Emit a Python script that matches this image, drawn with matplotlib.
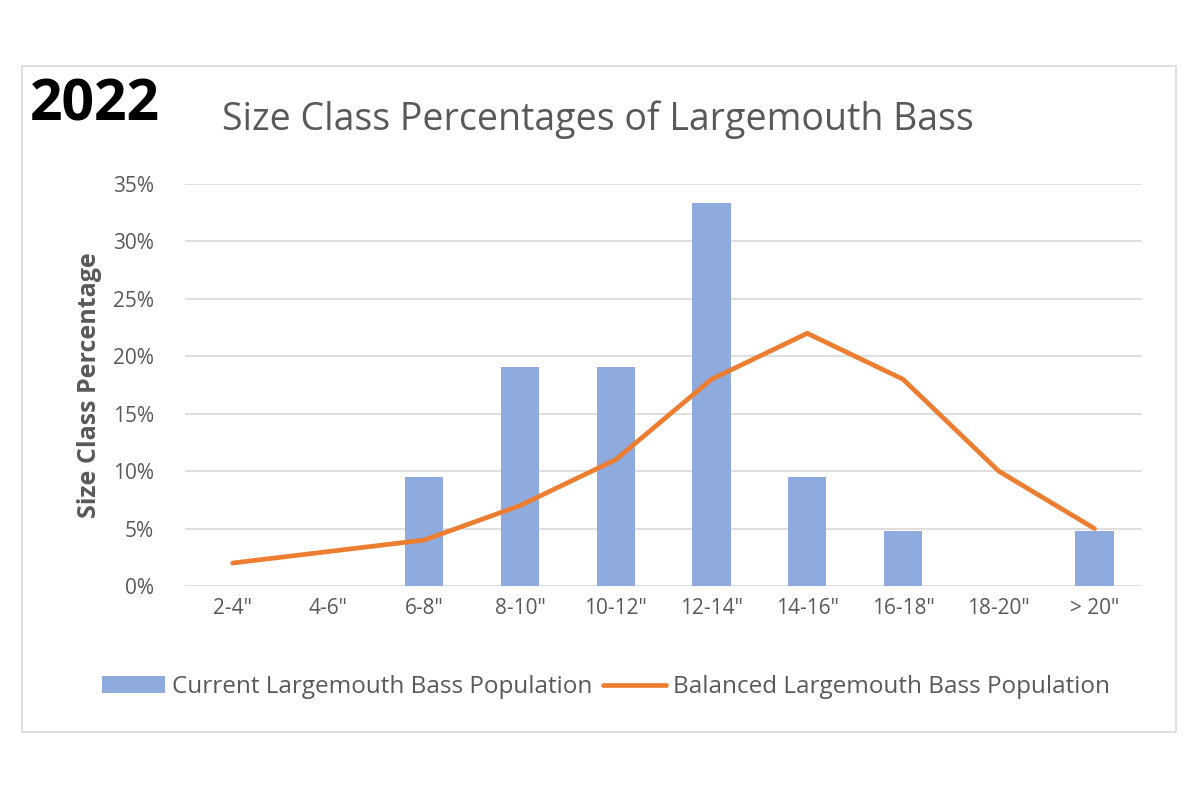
import numpy as np
import matplotlib.pyplot as plt
from matplotlib.patches import Rectangle
from matplotlib.ticker import PercentFormatter

# donnees
categories = ['2-4"', '4-6"', '6-8"', '8-10"', '10-12"', '12-14"', '14-16"', '16-18"', '18-20"', '> 20"']
current_pop = [0, 0, 9.52, 19.05, 19.05, 33.33, 9.52, 4.76, 0, 4.76]
balanced_pop = [2, 3, 4, 7, 11, 18, 22, 18, 10, 5]

GREY = '#595959'
plt.rcParams['font.family'] = ['Open Sans', 'DejaVu Sans']

fig = plt.figure(figsize=(12, 8), dpi=100)
ax = fig.add_axes([0.154, 0.2675, 0.798, 0.5025])

# cadre exterieur
fig.patches.append(Rectangle((22 / 1200, 1 - 732 / 800), 1154 / 1200, 666 / 800,
                             transform=fig.transFigure, fill=False,
                             edgecolor='#d9d9d9', linewidth=1.2))

x = np.arange(len(categories))
bars = ax.bar(x, current_pop, width=0.4, color='#8FAADC', label='Current Largemouth Bass Population', zorder=2)
line, = ax.plot(x, balanced_pop, color='#ED7D31', linewidth=3.4, solid_capstyle='round',
                label='Balanced Largemouth Bass Population', zorder=3)

ax.set_xlim(-0.5, len(categories) - 0.5)
ax.set_ylim(0, 35)
ax.set_yticks(np.arange(0, 36, 5))
ax.yaxis.set_major_formatter(PercentFormatter(decimals=0))
ax.set_xticks(x)
ax.set_xticklabels(categories)
ax.tick_params(axis='both', length=0, colors=GREY, labelsize=15)
ax.tick_params(axis='x', pad=9)
ax.tick_params(axis='y', pad=22)
ax.grid(axis='y', color='#d9d9d9', linewidth=1.2, zorder=0)
for s in ax.spines.values():
    s.set_visible(False)

ax.set_ylabel('Size Class Percentage', fontsize=18, fontweight='bold', color=GREY, labelpad=8)

fig.text(0.498, 0.851, 'Size Class Percentages of Largemouth Bass', ha='center', va='center',
         fontsize=27, color=GREY, fontweight='medium')
fig.text(0.025, 0.868, '2022', ha='left', va='center', fontsize=41, fontweight='bold', color='black')

fig.legend([bars, line], [bars.get_label(), line.get_label()],
           loc='center', bbox_to_anchor=(0.505, 0.141), ncol=2, frameon=False, fontsize=17.5,
           labelcolor=GREY, handlelength=2.6, handletextpad=0.3, columnspacing=0.4)

fig.savefig('out.png', dpi=100)
